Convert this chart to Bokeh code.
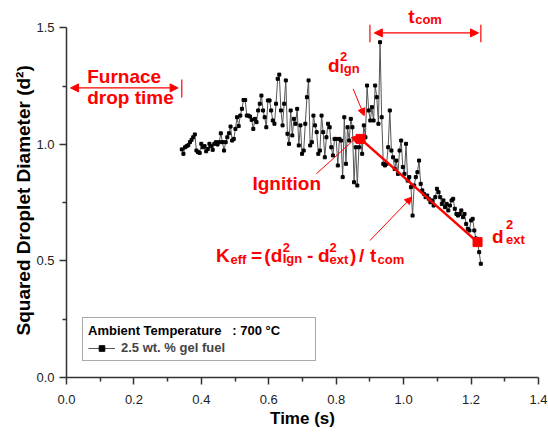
from bokeh.plotting import figure
from bokeh.models import (Arrow, NormalHead, FixedTicker, PrintfTickFormatter,
                          Legend, LegendItem, ColumnDataSource, Title)
from bokeh.embed import file_html
from bokeh.resources import INLINE
from bokeh.core.properties import value

# ---------------- data ----------------
t_start = 0.342      # first recorded frame (s)
dt = 0.00482         # frame interval (s)

d2 = [
    0.979, 0.960, 0.988, 0.993, 0.997, 1.010, 1.020, 1.031, 1.043, 0.974,
    0.967, 0.964, 1.003, 0.988, 0.993, 0.971, 0.981, 1.003, 0.993, 0.977,
    1.003, 1.010, 1.000, 1.010, 1.048, 1.010, 0.974, 1.010, 1.031, 1.048,
    1.077, 1.017, 1.024, 1.067, 1.117, 1.079, 1.124, 1.153, 1.191, 1.191,
    1.124, 1.124, 1.120, 1.106, 1.067, 1.110, 1.096, 1.146, 1.175, 1.210,
    1.146, 1.117, 1.074, 1.189, 1.189, 1.146, 1.103, 1.089, 1.175, 1.282,
    1.300, 1.146, 1.082, 1.175, 1.275, 1.046, 1.003, 1.146, 1.039, 1.110,
    1.089, 1.153, 0.996, 1.082, 0.960, 0.974, 1.089, 1.203, 1.275,
    0.996, 1.010, 1.124, 1.082, 1.053, 0.960, 0.974, 1.124, 1.053, 0.945,
    1.031, 1.089, 1.074, 0.988, 0.953, 1.024, 1.024, 0.910, 1.024, 1.017,
    0.860, 1.117, 0.917, 1.074, 1.017, 1.110, 1.074, 0.838, 0.988, 0.824,
    0.988, 1.024, 0.960, 1.082, 1.031, 1.253, 1.146, 1.103, 1.160, 1.103,
    1.253, 1.203, 1.089, 1.439, 1.117, 0.917, 0.910, 0.917, 0.988, 1.146,
    0.974, 0.945, 0.895, 0.931, 0.874, 0.974, 1.017, 0.903, 0.874, 1.003,
    0.845, 0.860, 0.817,
    0.695, 0.824, 0.860, 0.881, 0.931, 0.831, 0.803, 0.788, 0.774, 0.781,
    0.767, 0.752, 0.760, 0.738, 0.774, 0.810, 0.795, 0.774, 0.745, 0.760,
    0.731, 0.745, 0.717, 0.738, 0.760, 0.767, 0.724, 0.702, 0.695, 0.702,
    0.717, 0.688, 0.702, 0.659, 0.638, 0.631, 0.674, 0.681, 0.631, 0.597,
    0.581, 0.538, 0.488,
]
time = [round(t_start + i * dt, 5) for i in range(len(d2))]

ign_idx = 110   # ignition frame
ext_idx = 182   # extinction frame

x_major = [0.0, 0.2, 0.4, 0.6, 0.8, 1.0, 1.2, 1.4]
x_minor = [0.1, 0.3, 0.5, 0.7, 0.9, 1.1, 1.3]
y_major = [0.0, 0.5, 1.0, 1.5]
y_minor = [0.25, 0.75, 1.25]

x_title = "Time (s)"
y_title = "Squared Droplet Diameter (d\u00b2)"
legend_title = "Ambient Temperature\u00a0\u00a0\u00a0: 700 \u00b0C"
series_label = "2.5 wt. % gel fuel"

FONT = "Liberation Sans"
RED = "#ff0000"
AX = "#333333"
TXT_SHIFT = -7   # px, raises glyph text onto its intended baseline

# ---------------- figure ----------------
p = figure(width=548, height=433, x_range=(0, 1.4), y_range=(0, 1.618),
           output_backend="svg", toolbar_location=None,
           min_border_left=66, min_border_right=10,
           min_border_top=0, min_border_bottom=56)
p.outline_line_color = None
p.grid.visible = False
p.background_fill_color = "white"
p.border_fill_color = "white"

for ax in (p.xaxis[0], p.yaxis[0]):
    ax.axis_line_color = AX
    ax.axis_line_width = 1.5
    ax.major_tick_line_color = AX
    ax.major_tick_line_width = 1.5
    ax.minor_tick_line_color = AX
    ax.minor_tick_line_width = 1.5
    ax.major_tick_in = 0
    ax.major_tick_out = 7
    ax.minor_tick_in = 0
    ax.minor_tick_out = 4
    ax.major_label_text_font = FONT
    ax.major_label_text_font_size = "13px"
    ax.major_label_text_color = "#222222"
    ax.axis_label_text_font = FONT
    ax.axis_label_text_font_style = "bold"
    ax.axis_label_text_color = "black"
    ax.formatter = PrintfTickFormatter(format="%.1f")

p.xaxis.ticker = FixedTicker(ticks=x_major, minor_ticks=x_minor)
p.yaxis.ticker = FixedTicker(ticks=y_major, minor_ticks=y_minor)
p.yaxis.bounds = (0, 1.5)
p.xaxis.axis_label = x_title
p.xaxis.axis_label_text_font_size = "17px"
p.xaxis.major_label_standoff = 10
p.yaxis.major_label_standoff = 5
p.xaxis.axis_label_standoff = 2

# y title centred on the 0-1.5 axis span rather than on the whole frame
ytitle = Title(text=y_title, align="left", offset=42, standoff=0,
               text_font=FONT, text_font_size="19px", text_font_style="bold",
               text_color="black")
p.add_layout(ytitle, "left")

# ---------------- data series ----------------
src = ColumnDataSource(dict(t=time, d2=d2))
ln = p.line("t", "d2", source=src, line_color="#555555", line_width=1)
sc = p.scatter("t", "d2", source=src, marker="square", size=3,
               fill_color="black", line_color="black")

# burning-rate line between ignition and extinction
kx = [time[ign_idx], time[ext_idx]]
ky = [d2[ign_idx], d2[ext_idx]]
p.line(kx, ky, line_color=RED, line_width=2.5)
p.scatter(kx, ky, marker="square", size=9, fill_color=RED, line_color=RED)

# ---------------- legend ----------------
leg = Legend(items=[LegendItem(label=series_label, renderers=[ln, sc])],
             title=legend_title, location=(16, 16))
leg.title_text_font = FONT
leg.title_text_font_size = "13px"
leg.title_text_font_style = "bold"
leg.title_text_color = "black"
leg.title_standoff = 2
leg.label_text_font = FONT
leg.label_text_font_size = "13px"
leg.label_text_font_style = "bold"
leg.label_height = 14
leg.label_width = 189
leg.glyph_height = 14
leg.glyph_width = 27
leg.label_standoff = 6
leg.padding = 5
leg.spacing = 0
leg.margin = 0
leg.border_line_color = "#555555"
leg.border_line_width = 1
leg.background_fill_alpha = 1
p.add_layout(leg)

# ---------------- annotations ----------------
def rich(x, y, pieces):
    for dx, dy, txt, size in pieces:
        p.text(x=[x], y=[y], text=[txt], x_offset=dx, y_offset=dy + TXT_SHIFT,
               text_font=value(FONT), text_font_size=value(f"{size}px"),
               text_font_style="bold", text_color=RED,
               text_align="left", text_baseline="alphabetic")

def arrow(x0, y0, x1, y1, both=False, size=8, width=1.2):
    def head():
        return NormalHead(size=size, fill_color=RED, line_color=RED, line_width=1)
    p.add_layout(Arrow(x_start=x0, y_start=y0, x_end=x1, y_end=y1,
                       line_color=RED, line_width=width,
                       end=head(), start=head() if both else None))

def bar(x, y0, y1):
    p.add_layout(Arrow(x_start=x, y_start=y0, x_end=x, y_end=y1,
                       line_color=RED, line_width=1.2, start=None, end=None))

# furnace drop time
rich(0.0616, 1.262, [(0, 0, "Furnace", 19)])
rich(0.0616, 1.172, [(0, 0, "drop time", 19)])
arrow(0.012, 1.243, 0.331, 1.243, both=True)
bar(0.342, 1.202, 1.279)

# combustion time
rich(1.0134, 1.519, [(0, 0, "t", 19), (7, 3, "com", 13)])
arrow(0.913, 1.479, 1.222, 1.479, both=True)
bar(0.900, 1.439, 1.514)
bar(1.229, 1.439, 1.514)

# d2 at ignition
rich(0.776, 1.310, [(0, 0, "d", 19), (12, -9, "2", 13), (12, 3, "Ign", 13)])
arrow(0.850, 1.239, 0.883, 1.124, size=7, width=1)

# ignition
rich(0.5515, 0.8026, [(0, 0, "Ignition", 19)])
arrow(0.741, 0.874, 0.867, 1.039, size=7, width=1)

# d2 at extinction
rich(1.262, 0.575, [(0, 0, "d", 19), (14, -12, "2", 13), (14, 3, "ext", 13)])

# K_eff formula
rich(0.4435, 0.4948, [
    (0, 0, "K", 19), (14.5, 4.3, "eff", 13),
    (35, 0, "=", 19), (48.3, 0, "(d", 19),
    (66.7, -7.7, "2", 13), (66.7, 3, "Ign", 13),
    (91, 0, "-", 19), (102, 0, "d", 19),
    (113.5, -7.7, "2", 13), (113.5, 4.5, "ext", 13),
    (134, 0, ")", 19), (143, 0, "/", 19),
    (154, 0, "t", 19), (161.5, 4.5, "com", 13),
])
arrow(0.900, 0.588, 1.024, 0.774, size=7, width=1)

open("out.html", "w").write(file_html(p, INLINE))
